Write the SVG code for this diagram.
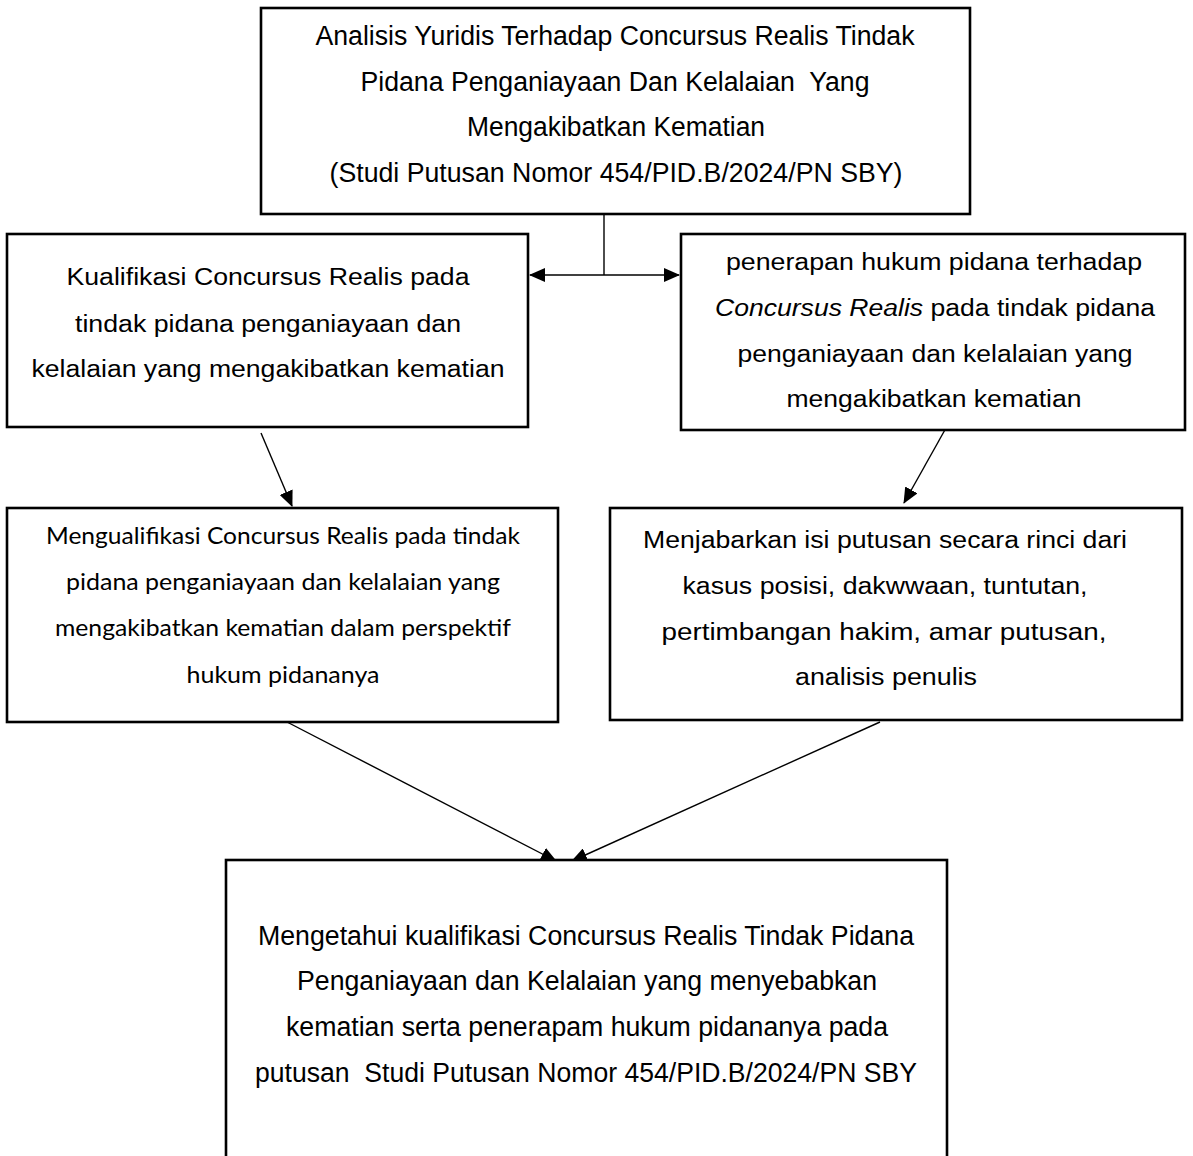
<svg xmlns="http://www.w3.org/2000/svg" width="1193" height="1156" viewBox="0 0 1193 1156">
<style>
.box{fill:#fff;stroke:#000;stroke-width:2.6}
.a{font-family:"Liberation Sans",Arial,sans-serif;font-size:23px;fill:#000;text-anchor:middle}
.n{font-family:"Liberation Sans",Arial,sans-serif;font-size:27px;fill:#000;text-anchor:middle}
.c{font-family:Lato,"Open Sans",sans-serif;font-size:23px;fill:#000;text-anchor:middle}
.ln{stroke:#000;stroke-width:1.4;fill:none}
</style>
<defs>
<marker id="ah" markerUnits="userSpaceOnUse" markerWidth="16" markerHeight="14" refX="15" refY="7" orient="auto-start-reverse">
<path d="M0,0 L16,7 L0,14 Z" fill="#000"/>
</marker>
</defs>
<rect width="1193" height="1156" fill="#fff"/>
<g id="connectors">
<line class="ln" x1="604" y1="214" x2="604" y2="275"/>
<line class="ln" x1="530" y1="275" x2="679" y2="275" marker-start="url(#ah)" marker-end="url(#ah)"/>
<line class="ln" x1="261" y1="433" x2="292" y2="506" marker-end="url(#ah)"/>
<line class="ln" x1="946" y1="428" x2="904" y2="503" marker-end="url(#ah)"/>
<line class="ln" x1="287" y1="722" x2="556" y2="861" marker-end="url(#ah)"/>
<line class="ln" x1="880" y1="722" x2="572" y2="861" marker-end="url(#ah)"/>
</g>
<g id="node-top">
<rect class="box" x="261" y="8" width="709" height="206"/>
<text class="n" x="615" y="45" textLength="599" lengthAdjust="spacingAndGlyphs">Analisis Yuridis Terhadap Concursus Realis Tindak</text>
<text class="n" x="615" y="91" textLength="509" lengthAdjust="spacingAndGlyphs" xml:space="preserve">Pidana Penganiayaan Dan Kelalaian  Yang</text>
<text class="n" x="616" y="136" textLength="298" lengthAdjust="spacingAndGlyphs">Mengakibatkan Kematian</text>
<text class="n" x="616" y="182" textLength="573" lengthAdjust="spacingAndGlyphs">(Studi Putusan Nomor 454/PID.B/2024/PN SBY)</text>
</g>
<g id="node-left1">
<rect class="box" x="7" y="234" width="521" height="193"/>
<text class="a" x="268" y="285" textLength="403" lengthAdjust="spacingAndGlyphs">Kualifikasi Concursus Realis pada</text>
<text class="a" x="268" y="332" textLength="386" lengthAdjust="spacingAndGlyphs">tindak pidana penganiayaan dan</text>
<text class="a" x="268" y="377" textLength="473" lengthAdjust="spacingAndGlyphs">kelalaian yang mengakibatkan kematian</text>
</g>
<g id="node-right1">
<rect class="box" x="681" y="234" width="504" height="196"/>
<text class="a" x="934" y="270" textLength="416" lengthAdjust="spacingAndGlyphs">penerapan hukum pidana terhadap</text>
<text class="a" x="935" y="316" textLength="440" lengthAdjust="spacingAndGlyphs"><tspan font-style="italic">Concursus Realis</tspan> pada tindak pidana</text>
<text class="a" x="935" y="362" textLength="395" lengthAdjust="spacingAndGlyphs">penganiayaan dan kelalaian yang</text>
<text class="a" x="934" y="407" textLength="295" lengthAdjust="spacingAndGlyphs">mengakibatkan kematian</text>
</g>
<g id="node-left2">
<rect class="box" x="7" y="508" width="551" height="214"/>
<text class="c" x="283" y="544" textLength="474" lengthAdjust="spacingAndGlyphs">Mengualifikasi Concursus Realis pada tindak</text>
<text class="c" x="283" y="590" textLength="434" lengthAdjust="spacingAndGlyphs">pidana penganiayaan dan kelalaian yang</text>
<text class="c" x="283" y="636" textLength="456" lengthAdjust="spacingAndGlyphs">mengakibatkan kematian dalam perspektif</text>
<text class="c" x="283" y="683" textLength="193" lengthAdjust="spacingAndGlyphs">hukum pidananya</text>
</g>
<g id="node-right2">
<rect class="box" x="610" y="508" width="572" height="212"/>
<text class="a" x="885" y="548" textLength="484" lengthAdjust="spacingAndGlyphs">Menjabarkan isi putusan secara rinci dari</text>
<text class="a" x="885" y="594" textLength="405" lengthAdjust="spacingAndGlyphs">kasus posisi, dakwwaan, tuntutan,</text>
<text class="a" x="884" y="640" textLength="445" lengthAdjust="spacingAndGlyphs">pertimbangan hakim, amar putusan,</text>
<text class="a" x="886" y="685" textLength="182" lengthAdjust="spacingAndGlyphs">analisis penulis</text>
</g>
<g id="node-bottom">
<rect class="box" x="226" y="860" width="721" height="320"/>
<text class="n" x="586" y="945" textLength="656" lengthAdjust="spacingAndGlyphs">Mengetahui kualifikasi Concursus Realis Tindak Pidana</text>
<text class="n" x="587" y="990" textLength="580" lengthAdjust="spacingAndGlyphs">Penganiayaan dan Kelalaian yang menyebabkan</text>
<text class="n" x="587" y="1036" textLength="602" lengthAdjust="spacingAndGlyphs">kematian serta penerapam hukum pidananya pada</text>
<text class="n" x="586" y="1082" textLength="662" lengthAdjust="spacingAndGlyphs" xml:space="preserve">putusan  Studi Putusan Nomor 454/PID.B/2024/PN SBY</text>
</g>
</svg>
